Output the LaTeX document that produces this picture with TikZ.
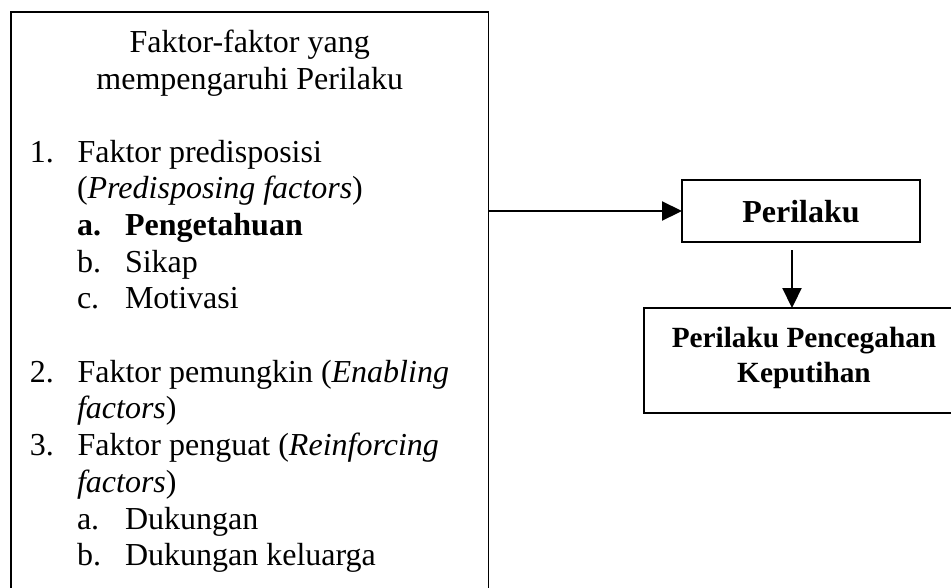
\documentclass[tikz,border=0pt]{standalone}
\usepackage{fontspec}
\setmainfont{Liberation Serif}
\usetikzlibrary{arrows.meta,calc}
\begin{document}
\begin{tikzpicture}[x=1pt,y=-1pt,
  box/.style={draw, line width=1.8pt, inner sep=0pt, outer sep=0pt},
  txt/.style={inner sep=0pt, outer sep=0pt, anchor=base west, font=\fontsize{32}{36.7}\selectfont},
  ctxt/.style={inner sep=0pt, outer sep=0pt, anchor=base, font=\fontsize{32}{36.7}\selectfont},
  btxt/.style={inner sep=0pt, outer sep=0pt, anchor=base, font=\fontsize{32}{36.7}\selectfont\bfseries},
  sbtxt/.style={inner sep=0pt, outer sep=0pt, anchor=base, font=\fontsize{29.3}{35}\selectfont\bfseries},
  arr/.style={line width=2.2pt, -{Triangle[length=20pt,width=19pt]}}]
\useasboundingbox (0,0) rectangle (951,587);
\clip (0,0) rectangle (951,587);

% left box
\node[box, anchor=north west, minimum width=477.5pt, minimum height=620pt] (L) at (11,12) {};
\node[ctxt] (t1) at (249.75,52.5) {Faktor-faktor yang};
\node[ctxt] (t2) at (249.75,89.2) {mempengaruhi Perilaku};

\node[txt] (n1) at (30,162) {1.};
\node[txt] (i1) at (77.5,162) {Faktor predisposisi};
\node[txt] (i1b) at (77,198.7) {(\textit{Predisposing factors})};
\node[txt] (a1) at (77,235.4) {\textbf{a.}};
\node[txt] (a1t) at (125,235.4) {\textbf{Pengetahuan}};
\node[txt] (b1) at (77,272.1) {b.};
\node[txt] (b1t) at (125,272.1) {Sikap};
\node[txt] (c1) at (77,308.8) {c.};
\node[txt] (c1t) at (125,308.8) {Motivasi};

\node[txt] (n2) at (30,382.2) {2.};
\node[txt] (i2) at (77.5,382.2) {Faktor pemungkin (\textit{Enabling}};
\node[txt] (i2b) at (77,418.9) {\textit{factors})};
\node[txt] (n3) at (30,455.6) {3.};
\node[txt] (i3) at (77.5,455.6) {Faktor penguat (\textit{Reinforcing}};
\node[txt] (i3b) at (77,492.3) {\textit{factors})};
\node[txt] (a3) at (77,529) {a.};
\node[txt] (a3t) at (125,529) {Dukungan};
\node[txt] (b3) at (77,565.7) {b.};
\node[txt] (b3t) at (125,565.7) {Dukungan keluarga};

% Perilaku box
\node[box, minimum width=238pt, minimum height=62pt] (P) at (801,211) {};
\node[btxt] (Pt) at (801,222) {Perilaku};

% Perilaku Pencegahan Keputihan box
\node[box, minimum width=320pt, minimum height=105pt] (K) at (804,360.5) {};
\node[sbtxt] (Kt1) at (804,347) {Perilaku Pencegahan};
\node[sbtxt] (Kt2) at (804,382) {Keputihan};

% connectors
\draw[arr] (L.east |- P.west) -- (P.west);
\draw[arr] ([xshift=-9pt,yshift=-8pt]P.south) -- ([xshift=-9pt]P.south |- K.north);
\end{tikzpicture}
\end{document}
